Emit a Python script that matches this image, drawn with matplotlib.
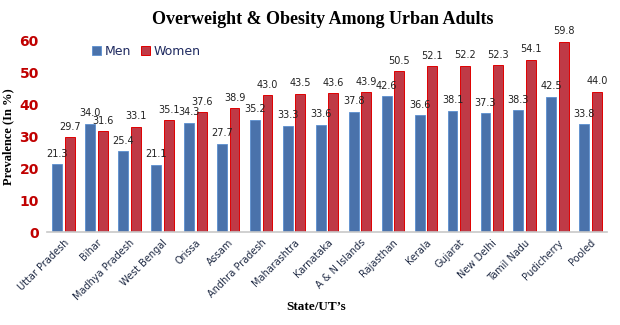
"""Grouped bar chart: overweight and obesity among urban adults, by state/UT."""

import matplotlib

matplotlib.use("Agg")
import matplotlib.pyplot as plt
import numpy as np

states = [
    "Uttar Pradesh", "Bihar", "Madhya Pradesh", "West Bengal", "Orissa", "Assam",
    "Andhra Pradesh", "Maharashtra", "Karnataka", "A & N Islands", "Rajasthan",
    "Kerala", "Gujarat", "New Delhi", "Tamil Nadu", "Pudicherry", "Pooled",
]
men = [21.3, 34.0, 25.4, 21.1, 34.3, 27.7, 35.2, 33.3, 33.6, 37.8, 42.6,
       36.6, 38.1, 37.3, 38.3, 42.5, 33.8]
women = [29.7, 31.6, 33.1, 35.1, 37.6, 38.9, 43.0, 43.5, 43.6, 43.9, 50.5,
         52.1, 52.2, 52.3, 54.1, 59.8, 44.0]
y_ticks = [0, 10, 20, 30, 40, 50, 60]

MEN_COLOR = "#4a72ab"
WOMEN_COLOR = "#bf3a46"
TICK_RED = "#c00000"
SERIF = ["Liberation Serif", "DejaVu Serif"]

fig = plt.figure(figsize=(6.2, 3.25), dpi=100)
ax = fig.add_axes([0.076, 0.286, 0.903, 0.588])

x = np.arange(len(states))
width = 0.30
offset = 0.19
men_bars = ax.bar(x - offset, men, width, color=MEN_COLOR, edgecolor="#5b8fd0",
                  linewidth=0.6, label="Men")
women_bars = ax.bar(x + offset, women, width, color=WOMEN_COLOR, edgecolor="#e00000",
                    linewidth=0.7, label="Women")

for bars in (men_bars, women_bars):
    ax.bar_label(bars, fmt="%.1f", padding=4, fontsize=7, color="#222222",
                 clip_on=False)

ax.set_xlim(-0.5, len(states) - 0.5)
ax.set_ylim(0, 60)
ax.set_yticks(y_ticks)
ax.tick_params(axis="y", length=0, labelsize=10, labelcolor=TICK_RED, pad=6)
for label in ax.get_yticklabels():
    label.set_fontweight("semibold")
ax.set_xticks(x)
ax.set_xticklabels(states, rotation=45, ha="right", rotation_mode="anchor",
                   fontsize=7, color="#1f2a44")
ax.tick_params(axis="x", length=0, pad=4)

for side in ("top", "right", "left"):
    ax.spines[side].set_visible(False)
ax.spines["bottom"].set_color("#c8c8c8")
ax.spines["bottom"].set_linewidth(1.2)

ax.set_ylabel("Prevalence (In %)", family=SERIF, fontsize=9, fontweight="bold",
              labelpad=4)
fig.text(0.51, 0.045, "State/UT\u2019s", family=SERIF, fontsize=9.5,
         fontweight="bold", ha="center")
fig.text(0.52, 0.925, "Overweight & Obesity Among Urban Adults", family=SERIF,
         fontsize=13, fontweight="bold", ha="center")

ax.legend(loc="upper left", bbox_to_anchor=(0.06, 1.04), ncol=2, frameon=False,
          fontsize=9, handlelength=0.7, handleheight=0.7, columnspacing=0.8,
          handletextpad=0.3, labelcolor="#1f2a60")

fig.savefig("out.png", dpi=100)
